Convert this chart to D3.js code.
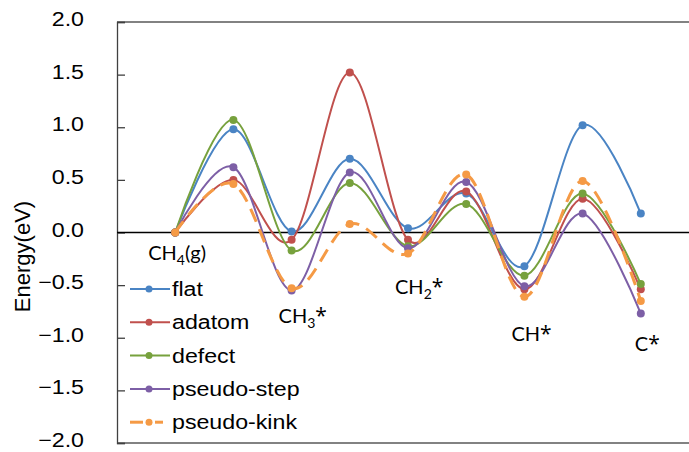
<!DOCTYPE html>
<html>
<head>
<meta charset="utf-8">
<script src="https://cdn.jsdelivr.net/npm/d3@7"></script>
<style>
  html, body { margin: 0; padding: 0; background: #fff; }
  svg { display: block; }
</style>
</head>
<body>
<svg id="chart" width="689" height="452"></svg>
<script>
// ---- data ----
const steps = [1, 2, 3, 4, 5, 6, 7, 8, 9];
const seriesNames = ["flat", "adatom", "defect", "pseudo-step", "pseudo-kink"];
const flat       = [0, 0.98,  0.01, 0.70,  0.04, 0.37, -0.32, 1.02,  0.18];
const adatom     = [0, 0.50, -0.07, 1.52, -0.07, 0.39, -0.54, 0.32, -0.54];
const defect     = [0, 1.07, -0.17, 0.47, -0.13, 0.27, -0.41, 0.37, -0.49];
const pseudoStep = [0, 0.62, -0.55, 0.57, -0.15, 0.48, -0.51, 0.18, -0.77];
const pseudoKink = [0, 0.46, -0.53, 0.08, -0.20, 0.55, -0.61, 0.49, -0.65];
const yTicks = [-2.0, -1.5, -1.0, -0.5, 0.0, 0.5, 1.0, 1.5, 2.0];
// part kinds: 0 normal, 1 subscript, 2 asterisk
const stateLabels = [
  { x: 1, parts: [["CH", 0], ["4", 1], ["(g)", 0]] },
  { x: 3, parts: [["CH", 0], ["3", 1], ["*", 2]] },
  { x: 5, parts: [["CH", 0], ["2", 1], ["*", 2]] },
  { x: 7, parts: [["CH", 0], ["*", 2]] },
  { x: 9, parts: [["C", 0], ["*", 2]] }
];
const yAxisTitle = "Energy(eV)";

// ---- layout / styles ----
const colors = ["#4a84c4", "#c0504d", "#77a13d", "#7d5fa6", "#f59a45"];
const dashed = [false, false, false, false, true];
const labelLayout = [
  { dx: -27, y: 260 }, { dx: -13, y: 323 }, { dx: -13, y: 294 },
  { dx: -13, y: 341 }, { dx: -6, y: 351 }
];
const stretch = 1.16;

const svg = d3.select("#chart");
const pLeft = 117, pRight = 699, pTop = 22, pBottom = 443;
const x = d3.scaleLinear().domain([0, 10]).range([pLeft, pRight]);
const y = d3.scaleLinear().domain([-2, 2]).range([pBottom, pTop]);

// frame
svg.append("line").attr("x1", pLeft).attr("x2", 689).attr("y1", pTop).attr("y2", pTop)
  .attr("stroke", "#595959").attr("stroke-width", 1.3);
svg.append("line").attr("x1", pLeft).attr("x2", 689).attr("y1", pBottom).attr("y2", pBottom)
  .attr("stroke", "#595959").attr("stroke-width", 1.3);

// y axis
const yAxis = d3.axisRight(y).tickValues(yTicks).tickSize(8).tickFormat("");
const ga = svg.append("g").attr("transform", `translate(${pLeft},0)`).call(yAxis);
ga.select(".domain").attr("stroke", "#404040").attr("stroke-width", 1.3);
ga.selectAll(".tick line").attr("stroke", "#404040").attr("stroke-width", 1.3);

// tick labels
yTicks.forEach(v => {
  svg.append("g").attr("transform", `translate(84,${y(v) - 3}) scale(${stretch},1)`)
    .append("text").attr("text-anchor", "end").attr("dy", "0.35em")
    .attr("font-family", "Liberation Sans, Arial, sans-serif").attr("font-size", 20)
    .attr("fill", "#000").text(d3.format(".1f")(v));
});

// y title
svg.append("text")
  .attr("transform", `translate(30,${y(0) + 24}) rotate(-90)`)
  .attr("text-anchor", "middle")
  .attr("font-family", "Liberation Sans, Arial, sans-serif").attr("font-size", 22)
  .attr("fill", "#000").text(yAxisTitle);

// zero line
svg.append("line").attr("x1", pLeft).attr("x2", 689).attr("y1", y(0)).attr("y2", y(0))
  .attr("stroke", "#000").attr("stroke-width", 1.3);

// series
const allSeries = [flat, adatom, defect, pseudoStep, pseudoKink];
const line = d3.line().x(d => x(d[0])).y(d => y(d[1])).curve(d3.curveCardinal.tension(0));
allSeries.forEach((vals, i) => {
  const pts = steps.map((s, j) => [s, vals[j]]);
  svg.append("path").datum(pts).attr("d", line).attr("fill", "none")
    .attr("stroke", colors[i]).attr("stroke-width", dashed[i] ? 3 : 2)
    .attr("stroke-dasharray", dashed[i] ? "14,8" : null);
  svg.append("g").selectAll("circle").data(pts).join("circle")
    .attr("cx", d => x(d[0])).attr("cy", d => y(d[1])).attr("r", 4)
    .attr("fill", colors[i]);
});

// state labels
stateLabels.forEach((lab, i) => {
  const t = svg.append("text")
    .attr("x", x(lab.x) + labelLayout[i].dx).attr("y", labelLayout[i].y)
    .attr("font-family", "Lato, 'Open Sans', sans-serif").attr("font-size", 20)
    .attr("fill", "#000");
  let shifted = 0;
  lab.parts.forEach(([txt, kind]) => {
    const ts = t.append("tspan").text(txt);
    if (kind === 1) { ts.attr("font-size", 14).attr("dy", 5); shifted = 5; }
    else {
      if (shifted) { ts.attr("dy", -shifted); shifted = 0; }
      if (kind === 2) ts.attr("font-family", "'Open Sans', sans-serif").attr("font-size", 21);
    }
  });
});

// legend
const legendTop = 289, legendStep = 33.3;
seriesNames.forEach((name, i) => {
  const ly = legendTop + i * legendStep;
  const g = svg.append("g");
  if (dashed[i]) {
    g.append("line").attr("x1", 130).attr("x2", 143).attr("y1", ly).attr("y2", ly)
      .attr("stroke", colors[i]).attr("stroke-width", 3);
    g.append("line").attr("x1", 155).attr("x2", 163).attr("y1", ly).attr("y2", ly)
      .attr("stroke", colors[i]).attr("stroke-width", 3);
  } else {
    g.append("line").attr("x1", 130).attr("x2", 170).attr("y1", ly).attr("y2", ly)
      .attr("stroke", colors[i]).attr("stroke-width", 2);
  }
  g.append("circle").attr("cx", 149).attr("cy", ly).attr("r", 3.5).attr("fill", colors[i]);
  svg.append("g").attr("transform", `translate(172,${ly}) scale(${stretch},1)`)
    .append("text").attr("dy", "0.35em")
    .attr("font-family", "Liberation Sans, Arial, sans-serif").attr("font-size", 20)
    .attr("fill", "#000").text(name);
});
</script>
</body>
</html>
